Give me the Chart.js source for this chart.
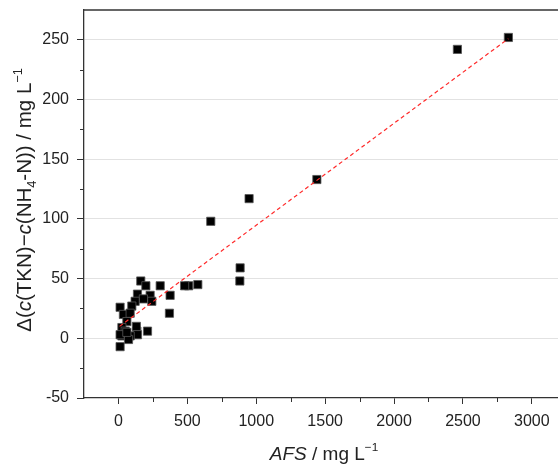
<!DOCTYPE html>
<html>
<head>
<meta charset="utf-8">
<script src="https://cdn.jsdelivr.net/npm/chart.js@4.4.0/dist/chart.umd.min.js"></script>
<style>
  html, body { margin: 0; padding: 0; background: #fff; }
  canvas { display: block; }
</style>
</head>
<body>
<canvas id="myChart" width="558" height="464"></canvas>
<script>
// measured points: AFS (mg/L) vs delta N (mg/L)
const afs = [2830, 2460, 1440, 948, 670, 883, 881, 576, 510, 480, 375, 370, 303, 211,
  162, 199, 138, 230, 242, 181, 121, 12, 97, 36, 85, 61, 25, 49, 134, 138, 25, 85, 73, 12,
  12, 130, 61];
const deltaN = [252, 242, 133, 117, 98, 59, 48, 45, 44, 44, 36, 21, 44, 6,
  48, 44, 37, 36, 31, 33, 31, 26, 27, 20, 21, 14, 9, 6, 6, 3, 2, 2, -1, -7,
  3, 10, 5];
// fitted line end points
const fitX = [8, 2830];
const fitY = [10, 251];

const xTicks = [0, 500, 1000, 1500, 2000, 2500, 3000];
const yTicks = [-50, 0, 50, 100, 150, 200, 250];
const xTicksMinor = [250, 750, 1250, 1750, 2250, 2750];
const yTicksMinor = [-25, 25, 75, 125, 175, 225];

const yTitle = [
  { t: "Δ(" }, { t: "c", i: true }, { t: "(TKN)−" }, { t: "c", i: true },
  { t: "(NH" }, { t: "4", sub: true }, { t: "-N)) / mg L" }, { t: "−1", sup: true }
];
const xTitle = [{ t: "AFS", i: true }, { t: " / mg L" }, { t: "−1", sup: true }];

const FONT = "'Liberation Sans', Arial, sans-serif";
const AXIS = "#333";

function drawRich(ctx, parts, size) {
  let w = 0;
  const items = parts.map(p => {
    const s = (p.sub || p.sup) ? size * 0.62 : size;
    ctx.font = (p.i ? "italic " : "") + s + "px " + FONT;
    const m = ctx.measureText(p.t).width;
    w += m;
    return { p: p, s: s, m: m };
  });
  let x = -w / 2;
  items.forEach(it => {
    ctx.font = (it.p.i ? "italic " : "") + it.s + "px " + FONT;
    let dy = 0;
    if (it.p.sub) dy = size * 0.22;
    if (it.p.sup) dy = -size * 0.45;
    ctx.fillText(it.p.t, x, dy);
    x += it.m;
  });
}

const extras = {
  id: "extras",
  afterDraw(chart) {
    const ctx = chart.ctx;
    const a = chart.chartArea;
    const xs = chart.scales.x, ys = chart.scales.y;
    ctx.save();
    ctx.strokeStyle = AXIS;
    ctx.lineWidth = 1.3;
    ctx.beginPath();
    ctx.moveTo(a.left, a.top);
    ctx.lineTo(a.right, a.top);
    ctx.stroke();
    ctx.lineWidth = 1;
    ctx.beginPath();
    yTicksMinor.forEach(v => {
      const y = Math.round(ys.getPixelForValue(v)) + 0.5;
      ctx.moveTo(a.left - 4, y);
      ctx.lineTo(a.left, y);
    });
    xTicksMinor.forEach(v => {
      const x = Math.round(xs.getPixelForValue(v)) + 0.5;
      ctx.moveTo(x, a.bottom);
      ctx.lineTo(x, a.bottom + 4);
    });
    ctx.stroke();

    ctx.fillStyle = "#222";
    ctx.textBaseline = "alphabetic";
    ctx.textAlign = "left";
    ctx.save();
    ctx.translate(324, 460);
    drawRich(ctx, xTitle, 19);
    ctx.restore();
    ctx.save();
    ctx.translate(31, 200);
    ctx.rotate(-Math.PI / 2);
    drawRich(ctx, yTitle, 20.5);
    ctx.restore();
    ctx.restore();
  }
};

document.addEventListener("DOMContentLoaded", function() {
  const points = afs.map((v, i) => ({ x: v, y: deltaN[i] }));
  const fit = fitX.map((v, i) => ({ x: v, y: fitY[i] }));

  const data = {
    datasets: [
      {
        type: "line",
        data: fit,
        borderColor: "#ff2a2a",
        borderWidth: 1.2,
        borderDash: [4, 3],
        pointRadius: 0,
        fill: false,
      },
      {
        type: "scatter",
        data: points,
        pointStyle: "rect",
        pointRadius: 5.8,
        backgroundColor: "#000",
        borderColor: "#555",
        borderWidth: 0.8,
      },
    ],
  };

  const config = {
    type: "scatter",
    data: data,
    options: {
      responsive: false,
      animation: false,
      devicePixelRatio: 1,
      layout: { autoPadding: false, padding: { top: 10, right: 0, left: 0, bottom: 0 } },
      plugins: {
        legend: { display: false },
        tooltip: { enabled: false },
      },
      scales: {
        x: {
          type: "linear",
          min: -250,
          max: 3190,
          afterFit: (s) => {
            s.height = 66;
            s.paddingLeft = 0;
            s.paddingRight = 0;
          },
          afterBuildTicks: (s) => { s.ticks = xTicks.map(v => ({ value: v })); },
          ticks: {
            padding: 8,
            color: "#222",
            font: { family: FONT, size: 16 },
            callback: (v) => String(v),
          },
          grid: {
            drawOnChartArea: false,
            tickLength: 6,
            tickColor: AXIS,
          },
          border: { color: AXIS, width: 1.3 },
        },
        y: {
          type: "linear",
          min: -50,
          max: 275,
          afterFit: (s) => {
            s.width = 84;
            s.paddingTop = 0;
            s.paddingBottom = 0;
          },
          afterBuildTicks: (s) => { s.ticks = yTicks.map(v => ({ value: v })); },
          ticks: {
            padding: 8,
            color: "#222",
            font: { family: FONT, size: 16 },
            callback: (v) => String(v),
          },
          grid: {
            color: (c) => (c.tick && c.tick.value === -50 ? "rgba(0,0,0,0)" : "#e2e2e2"),
            tickLength: 7,
            tickColor: AXIS,
          },
          border: { color: AXIS, width: 1.3 },
        },
      },
    },
    plugins: [extras],
  };

  const myChart = new Chart(document.getElementById("myChart"), config);
});
</script>
</body>
</html>
